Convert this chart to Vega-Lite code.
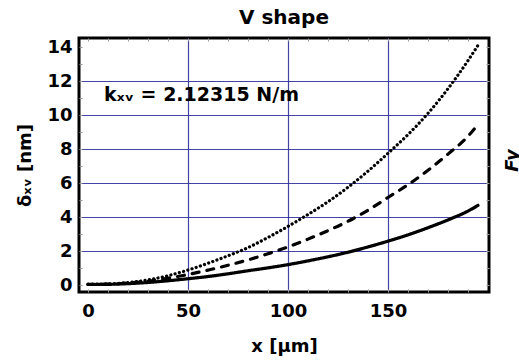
{
  "$schema": "https://vega.github.io/schema/vega-lite/v6.json",
  "width": 410,
  "height": 254,
  "autosize": "none",
  "padding": {"left": 79, "top": 38, "right": 30, "bottom": 68},
  "background": "white",
  "title": {"text": "V shape", "font": "DejaVu Sans", "fontSize": 20, "fontWeight": "bold", "color": "black", "offset": 10},
  "config": {
    "view": {"stroke": "black", "strokeWidth": 3},
    "axis": {"labelFont": "DejaVu Sans", "labelFontWeight": "bold", "labelFontSize": 18, "labelColor": "black", "titleFont": "DejaVu Sans", "titleFontWeight": "bold", "titleFontSize": 18, "titleColor": "black", "domain": false}
  },
  "datasets": {
    "curves": [
      {"x": 0, "delta": 0.03, "curve": "solid"}, {"x": 10, "delta": 0.04, "curve": "solid"}, {"x": 20, "delta": 0.08, "curve": "solid"}, {"x": 30, "delta": 0.15, "curve": "solid"}, {"x": 40, "delta": 0.25, "curve": "solid"}, {"x": 50, "delta": 0.37, "curve": "solid"}, {"x": 60, "delta": 0.5, "curve": "solid"}, {"x": 70, "delta": 0.66, "curve": "solid"}, {"x": 80, "delta": 0.84, "curve": "solid"}, {"x": 90, "delta": 1.01, "curve": "solid"}, {"x": 100, "delta": 1.2, "curve": "solid"}, {"x": 110, "delta": 1.42, "curve": "solid"}, {"x": 120, "delta": 1.66, "curve": "solid"}, {"x": 130, "delta": 1.93, "curve": "solid"}, {"x": 140, "delta": 2.24, "curve": "solid"}, {"x": 150, "delta": 2.58, "curve": "solid"}, {"x": 160, "delta": 2.95, "curve": "solid"}, {"x": 170, "delta": 3.37, "curve": "solid"}, {"x": 180, "delta": 3.83, "curve": "solid"}, {"x": 190, "delta": 4.35, "curve": "solid"}, {"x": 195, "delta": 4.68, "curve": "solid"},
      {"x": 0, "delta": 0.04, "curve": "dashed"}, {"x": 10, "delta": 0.05, "curve": "dashed"}, {"x": 20, "delta": 0.12, "curve": "dashed"}, {"x": 30, "delta": 0.22, "curve": "dashed"}, {"x": 40, "delta": 0.4, "curve": "dashed"}, {"x": 50, "delta": 0.62, "curve": "dashed"}, {"x": 60, "delta": 0.88, "curve": "dashed"}, {"x": 70, "delta": 1.16, "curve": "dashed"}, {"x": 80, "delta": 1.48, "curve": "dashed"}, {"x": 90, "delta": 1.84, "curve": "dashed"}, {"x": 100, "delta": 2.24, "curve": "dashed"}, {"x": 110, "delta": 2.7, "curve": "dashed"}, {"x": 120, "delta": 3.2, "curve": "dashed"}, {"x": 130, "delta": 3.75, "curve": "dashed"}, {"x": 140, "delta": 4.4, "curve": "dashed"}, {"x": 150, "delta": 5.15, "curve": "dashed"}, {"x": 160, "delta": 5.9, "curve": "dashed"}, {"x": 170, "delta": 6.75, "curve": "dashed"}, {"x": 180, "delta": 7.7, "curve": "dashed"}, {"x": 190, "delta": 8.75, "curve": "dashed"}, {"x": 195, "delta": 9.45, "curve": "dashed"},
      {"x": 0, "delta": 0.05, "curve": "dotted"}, {"x": 10, "delta": 0.07, "curve": "dotted"}, {"x": 20, "delta": 0.15, "curve": "dotted"}, {"x": 30, "delta": 0.3, "curve": "dotted"}, {"x": 40, "delta": 0.55, "curve": "dotted"}, {"x": 50, "delta": 0.88, "curve": "dotted"}, {"x": 60, "delta": 1.28, "curve": "dotted"}, {"x": 70, "delta": 1.72, "curve": "dotted"}, {"x": 80, "delta": 2.2, "curve": "dotted"}, {"x": 90, "delta": 2.8, "curve": "dotted"}, {"x": 100, "delta": 3.45, "curve": "dotted"}, {"x": 110, "delta": 4.15, "curve": "dotted"}, {"x": 120, "delta": 4.9, "curve": "dotted"}, {"x": 130, "delta": 5.75, "curve": "dotted"}, {"x": 140, "delta": 6.7, "curve": "dotted"}, {"x": 150, "delta": 7.75, "curve": "dotted"}, {"x": 160, "delta": 8.85, "curve": "dotted"}, {"x": 170, "delta": 10.1, "curve": "dotted"}, {"x": 180, "delta": 11.55, "curve": "dotted"}, {"x": 190, "delta": 13.2, "curve": "dotted"}, {"x": 195, "delta": 14.1, "curve": "dotted"}
    ],
    "notes": [
      {"label": "kₓᵥ = 2.12315 N/m", "x": 8, "delta": 11.2}
    ]
  },
  "layer": [
    {
      "data": {"name": "curves"},
      "mark": {"type": "line", "interpolate": "monotone", "color": "black", "strokeWidth": 3.2, "strokeCap": "round"},
      "encoding": {
        "x": {
          "field": "x", "type": "quantitative",
          "scale": {"domain": [-4.5, 200.5], "nice": false, "zero": false},
          "axis": {
            "orient": "bottom",
            "title": "x [μm]", "titlePadding": 17,
            "values": [0, 10, 20, 30, 40, 50, 60, 70, 80, 90, 100, 110, 120, 130, 140, 150, 160, 170, 180, 190],
            "labelExpr": "datum.value % 50 === 0 ? datum.label : ''",
            "labelPadding": 13,
            "tickSize": -3, "tickColor": "#999999", "tickWidth": 1,
            "grid": true, "gridColor": "#30309a", "gridWidth": 1.2,
            "gridOpacity": {"condition": {"test": "datum.value % 50 === 0 && datum.value > 0", "value": 0.9}, "value": 0}
          }
        },
        "y": {
          "field": "delta", "type": "quantitative",
          "scale": {"domain": [-0.41, 14.53], "nice": false, "zero": false},
          "axis": {
            "orient": "left",
            "title": "δₓᵥ [nm]", "titlePadding": 12,
            "values": [0, 1, 2, 3, 4, 5, 6, 7, 8, 9, 10, 11, 12, 13, 14],
            "labelExpr": "datum.value % 2 === 0 ? datum.label : ''",
            "labelPadding": 10,
            "tickSize": -3, "tickColor": "#999999", "tickWidth": 1,
            "grid": true, "gridColor": "#30309a", "gridWidth": 1.2,
            "gridOpacity": {"condition": {"test": "datum.value % 2 === 0 && datum.value > 0 && datum.value < 14", "value": 0.9}, "value": 0}
          }
        },
        "strokeDash": {
          "field": "curve", "type": "nominal",
          "scale": {"domain": ["solid", "dashed", "dotted"], "range": [[1, 0], [7, 8], [0.1, 4.3]]},
          "legend": null
        }
      }
    },
    {
      "data": {"name": "notes"},
      "mark": {"type": "text", "align": "left", "baseline": "middle", "font": "DejaVu Sans", "fontWeight": "bold", "fontSize": 19, "color": "black"},
      "encoding": {
        "x": {
          "field": "x", "type": "quantitative",
          "scale": {"domain": [-4.5, 200.5], "nice": false, "zero": false},
          "axis": {"orient": "top", "title": null, "labels": false, "grid": false,
                   "values": [0, 10, 20, 30, 40, 50, 60, 70, 80, 90, 100, 110, 120, 130, 140, 150, 160, 170, 180, 190],
                   "tickSize": -3, "tickColor": "#999999", "tickWidth": 1}
        },
        "y": {
          "field": "delta", "type": "quantitative",
          "scale": {"domain": [-0.41, 14.53], "nice": false, "zero": false},
          "axis": {"orient": "right", "labels": false, "grid": false,
                   "values": [0, 1, 2, 3, 4, 5, 6, 7, 8, 9, 10, 11, 12, 13, 14],
                   "tickSize": -3, "tickColor": "#999999", "tickWidth": 1,
                   "title": "Fy", "titleFontStyle": "italic", "titleAngle": 270,
                   "titleAlign": "center", "titleBaseline": "top", "titleX": 14, "titleY": 122}
        },
        "text": {"field": "label", "type": "nominal"}
      }
    }
  ],
  "resolve": {"axis": {"x": "independent", "y": "independent"}}
}
